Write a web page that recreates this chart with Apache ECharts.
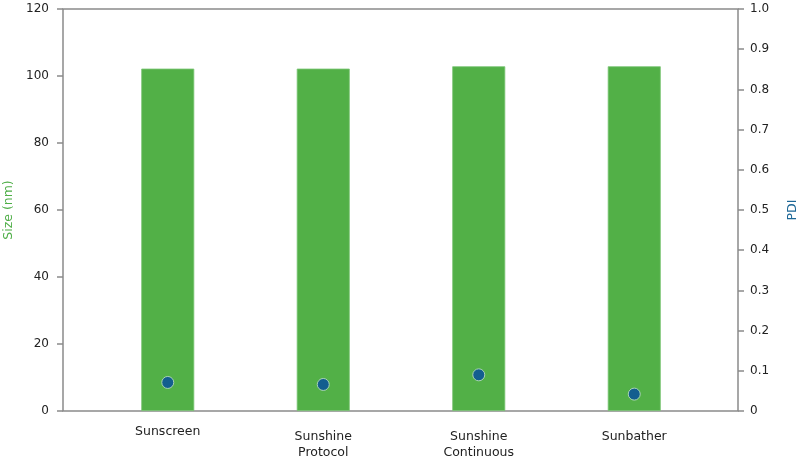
<!DOCTYPE html>
<html>
<head>
<meta charset="utf-8">
<script src="https://cdn.jsdelivr.net/npm/echarts@6/dist/echarts.min.js"></script>
<style>
html,body{margin:0;padding:0;background:#fff;}
#chart{width:800px;height:461px;}
</style>
</head>
<body>
<div id="chart"></div>
<script>
var categories = ['Sunscreen', 'Sunshine\nProtocol', 'Sunshine\nContinuous', 'Sunbather'];
var sizeValues = [102.2, 102.2, 102.9, 102.9];
var pdiValues = [0.071, 0.066, 0.090, 0.042];
var sizeTicks = [0, 20, 40, 60, 80, 100, 120];
var pdiTicks = [0, 0.1, 0.2, 0.3, 0.4, 0.5, 0.6, 0.7, 0.8, 0.9, 1.0];

var FONT = 'DejaVu Sans';
var AXIS = '#8a8a8a';
var TEXT = '#222222';

var chart = echarts.init(document.getElementById('chart'), null, {renderer: 'canvas'});
chart.setOption({
  animation: false,
  textStyle: {fontFamily: FONT},
  grid: [
    {left: 90, right: 88, top: 9, bottom: 50, containLabel: false, outerBoundsMode: 'none'},
    {left: 63, right: 62, top: 9, bottom: 50, outerBoundsMode: 'none', show: true, borderColor: AXIS, borderWidth: 1.5, backgroundColor: 'transparent'}
  ],
  xAxis: [
    {
      type: 'category', gridIndex: 0,
      data: categories.map(function (c, i) {
        return i === 0 ? {value: c} : {value: c, textStyle: {padding: [5, 0, 0, 0]}};
      }),
      axisLine: {show: false}, axisTick: {show: false},
      axisLabel: {color: TEXT, fontSize: 12.5, fontFamily: FONT, margin: 13, lineHeight: 16, interval: 0}
    },
    {type: 'value', gridIndex: 1, show: false}
  ],
  yAxis: [
    {
      type: 'value', gridIndex: 0, position: 'left', offset: 27,
      min: 0, max: 120, interval: 20,
      name: 'Size (nm)', nameLocation: 'middle', nameGap: 47, nameRotate: 90,
      nameTextStyle: {color: '#4fae48', fontSize: 12.5, fontFamily: FONT},
      axisLine: {show: false},
      axisTick: {show: true, inside: false, length: 6, lineStyle: {color: AXIS, width: 1.5}},
      axisLabel: {color: TEXT, fontSize: 12, fontFamily: FONT, margin: 14},
      splitLine: {show: false}
    },
    {
      type: 'value', gridIndex: 0, position: 'right', offset: 26,
      min: 0, max: 1, interval: 0.1,
      name: 'PDI', nameLocation: 'middle', nameGap: 48, nameRotate: 90,
      nameTextStyle: {color: '#1d6796', fontSize: 12.5, fontFamily: FONT},
      axisLine: {show: false},
      axisTick: {show: true, inside: false, length: 6, lineStyle: {color: AXIS, width: 1.5}},
      axisLabel: {color: TEXT, fontSize: 12, fontFamily: FONT, margin: 12,
        formatter: function (v) { return v === 0 ? '0' : v.toFixed(1); }},
      splitLine: {show: false}
    },
    {type: 'value', gridIndex: 1, show: false}
  ],
  series: [
    {
      type: 'bar', xAxisIndex: 0, yAxisIndex: 0,
      data: sizeValues, barWidth: 53,
      itemStyle: {color: '#52b047', borderColor: '#7cc576', borderWidth: 0.8}
    },
    {
      type: 'scatter', xAxisIndex: 0, yAxisIndex: 1,
      data: pdiValues, symbol: 'circle', symbolSize: 12,
      itemStyle: {color: '#135e8f', borderColor: '#a9d3b4', borderWidth: 1, opacity: 1},
      z: 5
    }
  ]
});
</script>
</body>
</html>
